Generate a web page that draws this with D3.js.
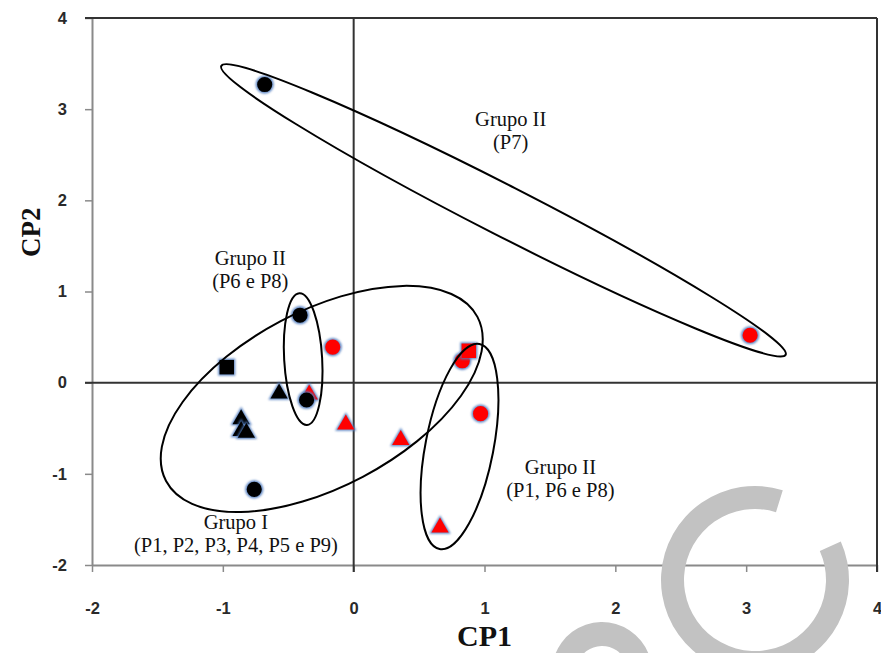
<!DOCTYPE html>
<html>
<head>
<meta charset="utf-8">
<script src="https://cdn.jsdelivr.net/npm/d3@7"></script>
<style>
  html, body { margin: 0; padding: 0; background: #fff; }
  svg { display: block; }
</style>
</head>
<body>
<script>
// Principal component scores (CP1, CP2) per sample group
const blackCircles   = [[-0.68, 3.27], [-0.41, 0.74], [-0.36, -0.19], [-0.76, -1.17]];
const blackTriangles = [[-0.57, -0.12], [-0.86, -0.40], [-0.86, -0.53], [-0.82, -0.55]];
const blackSquares   = [[-0.97, 0.17]];
const redCircles     = [[-0.16, 0.39], [0.83, 0.24], [0.97, -0.34], [3.03, 0.52]];
const redTriangles   = [[-0.34, -0.13], [-0.06, -0.46], [0.36, -0.63], [0.66, -1.59]];
const redSquares     = [[0.88, 0.35]];

const xTicks = [-2, -1, 0, 1, 2, 3, 4];
const yTicks = [-2, -1, 0, 1, 2, 3, 4];

// Group rings: centre in score units, radii in px, rotation in degrees
const groupRings = [
  { cx: 1.145, cy: 1.89, rx: 317, ry: 25, angle: 27.1 },
  { cx: -0.244, cy: -0.179, rx: 176, ry: 88, angle: -27.8 },
  { cx: -0.386, cy: 0.259, rx: 66, ry: 19, angle: 86.7 },
  { cx: 0.809, cy: -0.70, rx: 104.5, ry: 34, angle: 101 }
];

// Group captions: anchor in score units, first line then second line
const groupLabels = [
  { x: 1.20, y: 2.82, lines: ["Grupo II", "(P7)"] },
  { x: -0.79, y: 1.29, lines: ["Grupo II", "(P6 e P8)"] },
  { x: 1.58, y: -1.00, lines: ["Grupo II", "(P1, P6 e P8)"] },
  { x: -0.90, y: -1.61, lines: ["Grupo I", "(P1, P2, P3, P4, P5 e P9)"] }
];

const W = 881, H = 653;
const plotLeft = 92, plotRight = 877, plotTop = 18, plotBottom = 565;

const svg = d3.select("body").append("svg")
  .attr("width", W).attr("height", H)
  .attr("viewBox", `0 0 ${W} ${H}`);

svg.append("rect").attr("width", W).attr("height", H).attr("fill", "#fff");

const defs = svg.append("defs");
defs.append("filter").attr("id", "glow")
  .attr("x", "-50%").attr("y", "-50%").attr("width", "200%").attr("height", "200%")
  .append("feGaussianBlur").attr("stdDeviation", 1.1);

const x = d3.scaleLinear().domain([-2, 4]).range([plotLeft, plotRight]);
const y = d3.scaleLinear().domain([-2, 4]).range([plotBottom, plotTop]);

// Axes: left and bottom in grey, frame top and right in dark grey
const axisGrey = "#8a8a8a";
const dark = "#333";
const tickFont = "'Liberation Sans', Arial, sans-serif";
const fmt = d => String(d);

const yAxis = svg.append("g")
  .attr("transform", `translate(${plotLeft},0)`)
  .call(d3.axisLeft(y).tickValues(yTicks).tickSize(7).tickSizeOuter(0).tickFormat(fmt));
yAxis.attr("font-size", null).attr("font-family", null);
yAxis.select(".domain").attr("stroke", axisGrey).attr("stroke-width", 2);
yAxis.selectAll(".tick line").attr("stroke", axisGrey).attr("stroke-width", 1.5);
yAxis.selectAll(".tick text")
  .attr("x", -25)
  .attr("font-family", tickFont).attr("font-size", 16.5).attr("font-weight", "bold")
  .attr("fill", "#2a2a2a");

const xAxis = svg.append("g")
  .attr("transform", `translate(0,${plotBottom})`)
  .call(d3.axisBottom(x).tickValues(xTicks).tickSize(7).tickSizeOuter(0).tickFormat(fmt));
xAxis.attr("font-size", null).attr("font-family", null);
xAxis.select(".domain").attr("stroke", axisGrey).attr("stroke-width", 2);
xAxis.selectAll(".tick line").attr("stroke", axisGrey).attr("stroke-width", 1.5);
xAxis.selectAll(".tick text")
  .attr("y", 37)
  .attr("font-family", tickFont).attr("font-size", 16.5).attr("font-weight", "bold")
  .attr("fill", "#2a2a2a");

// Frame top and right
svg.append("line").attr("x1", x(-2) - 7).attr("x2", x(4)).attr("y1", y(4)).attr("y2", y(4))
  .attr("stroke", dark).attr("stroke-width", 2);
svg.append("line").attr("x1", x(4)).attr("x2", x(4)).attr("y1", y(4)).attr("y2", y(-2) + 7)
  .attr("stroke", dark).attr("stroke-width", 2);

// Zero lines
svg.append("line").attr("x1", x(-2) - 7).attr("x2", x(4)).attr("y1", y(0)).attr("y2", y(0))
  .attr("stroke", dark).attr("stroke-width", 2);
svg.append("line").attr("x1", x(0)).attr("x2", x(0)).attr("y1", y(4)).attr("y2", y(-2) + 7)
  .attr("stroke", dark).attr("stroke-width", 2);

// Light grey decorative arcs in the lower right corner
const deco = svg.append("g").attr("fill", "#c2c2c2");
deco.append("path")
  .attr("transform", "translate(755,580)")
  .attr("d", d3.arc()({ innerRadius: 71, outerRadius: 94, startAngle: 1.15, endAngle: 2 * Math.PI + 0.3 }));
deco.append("path")
  .attr("transform", "translate(602,672)")
  .attr("d", d3.arc()({ innerRadius: 26, outerRadius: 50, startAngle: -1.25, endAngle: 1.2 }));

// Axis titles
svg.append("text")
  .attr("x", x(1)).attr("y", 646)
  .attr("text-anchor", "middle")
  .attr("font-family", "'Liberation Serif', 'Times New Roman', serif")
  .attr("font-weight", "bold").attr("font-size", 30).attr("fill", "#111")
  .text("CP1");
svg.append("text")
  .attr("transform", `translate(40,${y(1.65)}) rotate(-90)`)
  .attr("text-anchor", "middle")
  .attr("font-family", "'Liberation Serif', 'Times New Roman', serif")
  .attr("font-weight", "bold").attr("font-size", 27).attr("fill", "#111")
  .text("CP2");

// Markers
const symbolOf = {
  circle: d3.symbol().type(d3.symbolCircle).size(180),
  triangle: d3.symbol().type(d3.symbolTriangle).size(130),
  square: d3.symbol().type(d3.symbolSquare).size(210)
};
const glowOf = {
  circle: d3.symbol().type(d3.symbolCircle).size(260),
  triangle: d3.symbol().type(d3.symbolTriangle).size(200),
  square: d3.symbol().type(d3.symbolSquare).size(290)
};

const series = [
  { data: blackTriangles, shape: "triangle", color: "#000" },
  { data: redTriangles, shape: "triangle", color: "#ff0000" },
  { data: blackCircles, shape: "circle", color: "#000" },
  { data: redCircles, shape: "circle", color: "#ff0000" },
  { data: blackSquares, shape: "square", color: "#000" },
  { data: redSquares, shape: "square", color: "#ff0000" }
];

const marks = svg.append("g");
series.forEach(s => {
  s.data.forEach(d => {
    const g = marks.append("g").attr("transform", `translate(${x(d[0])},${y(d[1])})`);
    g.append("path").attr("d", glowOf[s.shape]())
      .attr("fill", "#4f7cbf").attr("opacity", 0.9).attr("filter", "url(#glow)");
    g.append("path").attr("d", symbolOf[s.shape]()).attr("fill", s.color);
  });
});

// Group rings
svg.append("g").selectAll("ellipse").data(groupRings).join("ellipse")
  .attr("transform", d => `translate(${x(d.cx)},${y(d.cy)}) rotate(${d.angle})`)
  .attr("rx", d => d.rx).attr("ry", d => d.ry)
  .attr("fill", "none").attr("stroke", "#000").attr("stroke-width", 2);

// Group captions
const cap = svg.append("g")
  .attr("font-family", "'Liberation Serif', 'Times New Roman', serif")
  .attr("font-size", 20.5).attr("fill", "#111").attr("text-anchor", "middle");
groupLabels.forEach(l => {
  l.lines.forEach((t, i) => {
    cap.append("text").attr("x", x(l.x)).attr("y", y(l.y) + i * 23).text(t);
  });
});
</script>
</body>
</html>
